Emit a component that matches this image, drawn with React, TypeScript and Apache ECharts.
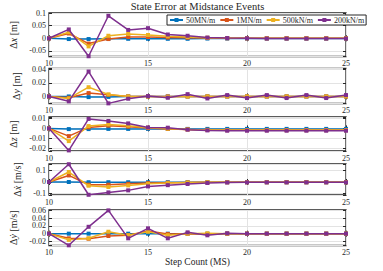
import React, { useEffect, useRef } from 'react';
import * as echarts from 'echarts';

// ---- data ----
const steps = [10, 11, 12, 13, 14, 15, 16, 17, 18, 19, 20, 21, 22, 23, 24, 25];
const seriesNames = ['50MN/m', '1MN/m', '500kN/m', '200kN/m'];

const dx50M = [0, -0.003, -0.003, -0.002, -0.002, -0.002, -0.002, -0.002, -0.001, -0.001, -0.001, -0.001, -0.001, -0.001, -0.001, -0.001];
const dx1M = [0, 0.019, -0.021, -0.003, 0.005, 0.005, 0.003, 0.002, 0.001, 0, 0, 0, 0, 0, 0, 0];
const dx500k = [0, 0.024, -0.032, 0.01, 0.017, 0.013, 0.008, 0.005, 0.002, 0.001, 0, 0, 0, 0, 0, 0];
const dx200k = [0, 0.035, -0.071, 0.089, 0.033, 0.04, 0.015, 0.01, 0.003, 0.001, 0, -0.001, -0.001, -0.001, -0.001, -0.001];

const dy50M = [0, 0, -0.001, -0.0007, 0, 0, 0, 0, 0, 0, 0, 0, 0, 0, 0, 0];
const dy1M = [0, -0.002, 0.005, 0.0024, 0, 0, 0, 0, 0, 0, 0, 0, 0, 0, 0, 0];
const dy500k = [0, -0.003, 0.0137, 0.003, 0, 0, -0.0005, 0, 0, 0, 0, 0, 0, 0, 0, 0];
const dy200k = [0, -0.0073, 0.037, -0.0103, -0.0034, 0.0005, -0.002, 0.0034, -0.003, 0.002, -0.0024, 0.002, -0.0024, 0.002, -0.0024, 0.002];

const dz50M = [0, -0.0007, -0.0007, -0.0005, -0.0005, -0.0005, -0.0005, -0.0005, -0.0005, -0.0005, -0.0005, -0.0005, -0.0005, -0.0005, -0.0005, -0.0005];
const dz1M = [0, -0.0077, 0.001, 0.0027, 0.0017, 0.0003, -0.0005, -0.001, -0.0015, -0.0017, -0.0017, -0.0017, -0.0017, -0.0017, -0.0017, -0.0017];
const dz500k = [0, -0.0127, 0.0023, 0.004, 0.0027, 0.0007, -0.0003, -0.001, -0.0015, -0.0017, -0.0017, -0.0017, -0.0017, -0.0017, -0.0017, -0.0017];
const dz200k = [0, -0.022, 0.0095, 0.0074, 0.005, 0.001, 0.0007, -0.0013, -0.002, -0.0023, -0.0023, -0.0023, -0.0023, -0.0023, -0.0023, -0.0023];

const dvx50M = [0, 0, -0.002, -0.002, -0.002, -0.002, -0.002, -0.002, -0.002, -0.002, -0.002, -0.002, -0.002, -0.002, -0.002, -0.002];
const dvx1M = [0, 0.058, -0.024, -0.024, -0.016, -0.01, -0.006, -0.004, -0.003, -0.002, -0.002, -0.002, -0.002, -0.002, -0.002, -0.002];
const dvx500k = [0, 0.088, -0.033, -0.044, -0.03, -0.016, -0.01, -0.005, -0.003, -0.002, -0.002, -0.002, -0.002, -0.002, -0.002, -0.002];
const dvx200k = [0, 0.157, -0.113, -0.092, -0.074, -0.039, -0.028, -0.018, -0.009, -0.004, -0.003, -0.003, -0.003, -0.003, -0.003, -0.003];

const dvy50M = [0, 0, 0, 0, 0, 0, 0, 0, 0, 0, 0, 0, 0, 0, 0, 0];
const dvy1M = [0, -0.012, -0.013, -0.006, -0.004, 0.007, -0.001, 0, -0.001, 0, 0, 0, 0, 0, 0, 0];
const dvy500k = [0, -0.016, -0.012, 0.005, -0.004, 0.005, -0.004, 0, 0.001, 0, 0, 0, 0, 0, 0, 0];
const dvy200k = [0, -0.03, 0.0177, 0.06, -0.012, 0.0137, -0.012, 0.0034, -0.0042, 0.001, 0, 0, 0, 0, 0, 0];

const yLabels = [
  '{d|Δ}{v|x} {d|[m]}',
  '{d|Δ}{v|y} {d|[m]}',
  '{d|Δ}{v|z} {d|[m]}',
  '{d|Δ}{v|ẋ} {d|[m/s]}',
  '{d|Δ}{v|ẏ} {d|[m/s]}',
];
const yMins = [-0.072, -0.0105, -0.0226, -0.115, -0.0305];
const yMaxs = [0.1, 0.0415, 0.0114, 0.159, 0.061];
const ySteps = [0.05, 0.02, 0.01, 0.1, 0.02];
const panelData = [
  [dx50M, dx1M, dx500k, dx200k],
  [dy50M, dy1M, dy500k, dy200k],
  [dz50M, dz1M, dz500k, dz200k],
  [dvx50M, dvx1M, dvx500k, dvx200k],
  [dvy50M, dvy1M, dvy500k, dvy200k],
];
const titleText = 'State Error at Midstance Events';
const xLabelText = 'Step Count (MS)';

// ---- layout / style ----
const colors = ['#0072BD', '#D95319', '#EDB120', '#7E2F8E'];
const gridTops = [13, 68.5, 117, 164, 210];
const gridBottoms = [56.5, 103.5, 151, 195, 245.5];
const nameGaps = [19, 19, 18, 15, 19];
const FONT = '"Liberation Serif", "DejaVu Serif", serif';
const INK = '#262626';

function fmt(v: number, step: number) {
  const k = v / step;
  if (Math.abs(k - Math.round(k)) > 1e-6) return '';
  const r = Math.round(k) * step;
  return String(parseFloat(r.toFixed(4)));
}

export default function App() {
  const ref = useRef<HTMLDivElement>(null);
  useEffect(() => {
    document.body.style.margin = '0';
    const chart = echarts.init(ref.current!, null, { renderer: 'svg' });
    const grids: any[] = [];
    const xAxes: any[] = [];
    const yAxes: any[] = [];
    const series: any[] = [];
    for (let i = 0; i < 5; i++) {
      grids.push({
        left: 49,
        width: 297,
        top: gridTops[i],
        height: gridBottoms[i] - gridTops[i],
        show: true,
        borderColor: INK,
        borderWidth: 1.3,
        backgroundColor: '#fff',
      });
      const baseX = {
        type: 'value',
        gridIndex: i,
        min: 10,
        max: 25,
        interval: 5,
        axisLine: { show: false },
        axisTick: { show: true, inside: true, length: 3, lineStyle: { color: INK, width: 1 } },
      };
      xAxes.push({
        ...baseX,
        position: 'bottom',
        axisLabel: { fontSize: 8, fontFamily: FONT, color: INK, margin: 3 },
        splitLine: { show: true, lineStyle: { color: '#e3e3e3', width: 1 } },
      });
      xAxes.push({
        ...baseX,
        position: 'top',
        axisLabel: { show: false },
        splitLine: { show: false },
      });
      const step = ySteps[i];
      const baseY = {
        type: 'value',
        gridIndex: i,
        min: yMins[i],
        max: yMaxs[i],
        minInterval: step,
        maxInterval: step,
        axisLine: { show: false },
        axisTick: { show: true, inside: true, length: 3, lineStyle: { color: INK, width: 1 } },
      };
      yAxes.push({
        ...baseY,
        position: 'left',
        name: yLabels[i],
        nameLocation: 'middle',
        nameRotate: 90,
        nameGap: nameGaps[i],
        nameTextStyle: {
          fontFamily: FONT,
          fontSize: 10,
          color: INK,
          rich: {
            d: { fontFamily: FONT, fontSize: 10, color: INK },
            v: { fontFamily: FONT, fontSize: 10, color: INK, fontStyle: 'italic' },
          },
        },
        axisLabel: {
          fontSize: 8,
          fontFamily: FONT,
          color: INK,
          margin: 3,
          formatter: (v: number) => fmt(v, step),
        },
        splitLine: { show: true, lineStyle: { color: '#e3e3e3', width: 1 } },
      });
      yAxes.push({
        ...baseY,
        position: 'right',
        axisLabel: { show: false },
        splitLine: { show: false },
      });
      for (let s = 0; s < 4; s++) {
        series.push({
          type: 'line',
          name: seriesNames[s],
          xAxisIndex: i * 2,
          yAxisIndex: i * 2,
          data: steps.map((x, j) => [x, panelData[i][s][j]]),
          symbol: 'rect',
          symbolSize: 4,
          showSymbol: true,
          lineStyle: { color: colors[s], width: 1.5 },
          itemStyle: { color: colors[s] },
          color: colors[s],
          z: 2 + s,
        });
      }
    }
    chart.setOption({
      animation: false,
      textStyle: { fontFamily: FONT },
      grid: grids,
      xAxis: xAxes,
      yAxis: yAxes,
      series,
      legend: {
        data: seriesNames,
        left: 167,
        top: 15,
        orient: 'horizontal',
        backgroundColor: '#fff',
        borderColor: INK,
        borderWidth: 1,
        borderRadius: 0,
        padding: [1, 2, 1, 2],
        itemGap: 4,
        itemWidth: 13,
        itemHeight: 5,
        textStyle: { fontFamily: FONT, fontSize: 8, color: INK, padding: [0, 0, 0, -2] },
      },
      graphic: [
        {
          type: 'text',
          x: 197.5,
          y: 6,
          style: {
            text: titleText,
            align: 'center',
            verticalAlign: 'middle',
            fontFamily: FONT,
            fontSize: 10.5,
            fill: INK,
          },
        },
        {
          type: 'text',
          x: 197.5,
          y: 262,
          style: {
            text: xLabelText,
            align: 'center',
            verticalAlign: 'middle',
            fontFamily: FONT,
            fontSize: 9.5,
            fill: INK,
          },
        },
      ],
    });
    return () => chart.dispose();
  }, []);
  return <div ref={ref} style={{ width: 383, height: 271 }} />;
}
